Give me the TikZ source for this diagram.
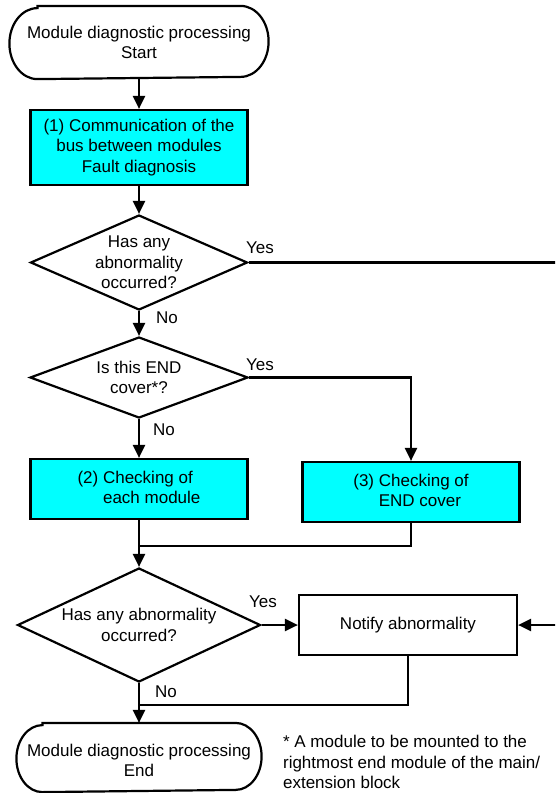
\documentclass[tikz,border=0pt]{standalone}
\usepackage{fontspec}
\setmainfont{Liberation Sans}
\usetikzlibrary{shapes.geometric,arrows.meta}
\definecolor{boxcyan}{HTML}{00FFFF}

% outline of a terminal node: straight top and bottom, elliptic ends
\newcommand\terminaloutline[3]{%
  \draw ([xshift=#2]#1.north west) -- ([xshift=-#2]#1.north east)
    arc[start angle=90, end angle=-90, x radius=#2, y radius=#3]
    -- ([xshift=#2]#1.south west)
    arc[start angle=270, end angle=90, x radius=#2, y radius=#3] -- cycle;}

\begin{document}
\begin{tikzpicture}[x=1pt, y=-1pt, line width=2.2pt,
  every node/.style={font=\fontsize{17}{20.5}\selectfont},
  terminal/.style={rectangle, inner sep=0pt, align=center},
  proc/.style={draw, rectangle, fill=boxcyan, minimum width=217pt, inner sep=0pt},
  plainbox/.style={draw, rectangle, fill=white, minimum width=218pt, minimum height=60pt, inner sep=0pt},
  decision/.style={draw, diamond, inner sep=0pt},
  arr/.style={-{Triangle[length=13pt, width=12pt]}},
  tag/.style={anchor=west, inner sep=0pt}
]
\useasboundingbox (0,0) rectangle (555,793);
\clip (0,0) rectangle (555,793);

% start / end
\node[terminal, minimum width=257pt, minimum height=71pt] (st) at (139,42.5)
  {Module diagnostic processing\\Start};
\terminaloutline{st}{28pt}{35.5pt}

% step (1)
\node[proc, minimum height=75pt, align=center] (p1) at (139,147.5)
  {(1) Communication of the\\bus between modules\\Fault diagnosis};

% first decision
\node[decision, minimum width=217pt, minimum height=95pt,
  label={[align=center]center:Has any\\abnormality\\occurred?}] (d1) at (139,262.5) {};

% second decision
\node[decision, minimum width=218pt, minimum height=81pt,
  label={[align=center]center:Is this END\\cover*?}] (d2) at (139,377.5) {};

% steps (2) and (3)
\node[proc, minimum height=60pt, align=left] (p2) at (139,489)
  {(2) Checking of\\\phantom{(2) }each module};
\node[proc, minimum height=60pt, align=left] (p3) at (411,492)
  {(3) Checking of\\\phantom{(3) }END cover};

% third decision
\node[decision, minimum width=243pt, minimum height=114pt,
  label={[align=center]center:Has any abnormality\\occurred?}] (d3) at (139,625) {};

% notification
\node[plainbox] (nt) at (408,625) {Notify abnormality};

\node[terminal, minimum width=243pt, minimum height=67pt,
  label={[align=center, yshift=-3pt]center:Module diagnostic processing\\End}] (en) at (139,757.5) {};
\terminaloutline{en}{26pt}{33.5pt}

% junctions and off-page ends
\coordinate (m1) at (139,546);
\coordinate (m2) at (139,705);
\coordinate (r1) at (556,262.5);
\coordinate (r2) at (556,625);

% connectors
\draw[arr] (st) -- (p1);
\draw[arr] (p1) -- (d1);
\draw (d1.east) -- (r1);
\draw[arr] (d1) -- (d2);
\draw[arr] (d2.east) -| (p3.north);
\draw[arr] (d2) -- (p2);
\draw (p3.south) |- (m1);
\draw[arr] (p2) -- (d3);
\draw[arr] (d3.east) -- (nt.west);
\draw[arr] (r2) -- (nt.east);
\draw (nt.south) |- (m2);
\draw[arr] (d3) -- (en);

% branch labels
\node[tag] (y1) at (245,248) {Yes};
\node[tag] (n1) at (155,318) {No};
\node[tag] (y2) at (245,365) {Yes};
\node[tag] (n2) at (152,430) {No};
\node[tag] (y3) at (248,602) {Yes};
\node[tag] (n3) at (154,692) {No};

% footnote
\node[tag, align=left] (fn) at (282,762)
  {* A module to be mounted to the\\rightmost end module of the main/\\extension block};
\end{tikzpicture}
\end{document}
